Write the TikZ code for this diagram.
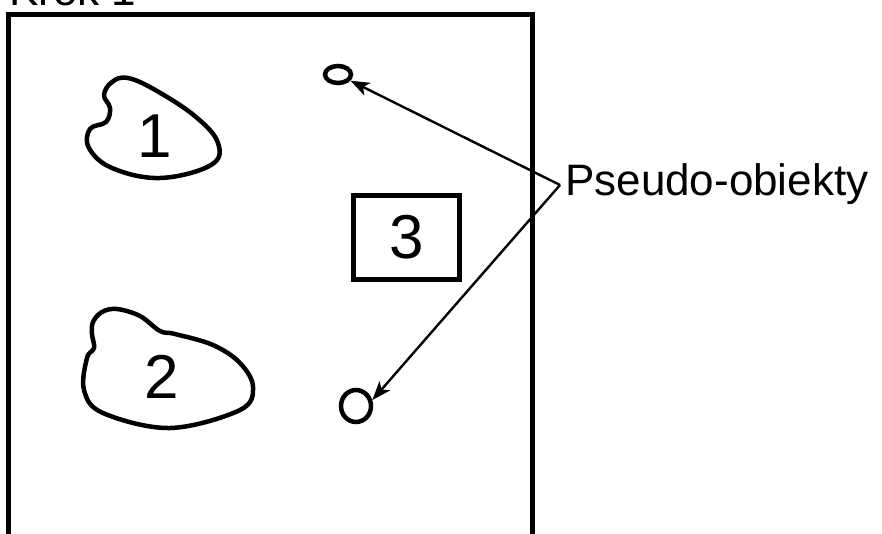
\documentclass[tikz,border=0pt]{standalone}
\usepackage{fontspec}
\setmainfont{Liberation Sans}
\usetikzlibrary{arrows.meta,shapes.geometric}
\begin{document}
\begin{tikzpicture}[x=1pt,y=-1pt,
  frame/.style={line width=5pt},
  outline/.style={line width=4.5pt, line join=round},
  digit/.style={font=\fontsize{62}{70}\selectfont, inner sep=0pt, anchor=base},
  caption/.style={font=\fontsize{44}{50}\selectfont, inner sep=0pt, anchor=base west},
  pseudo/.style={ellipse, draw, line width=4.5pt, inner sep=0pt},
  pointer/.style={line width=2.4pt, -{Stealth[length=19pt,width=14pt,inset=5pt]}}]
\useasboundingbox (0,0) rectangle (882,533);

% step title and the working area
\node[caption] (title) at (9,5) {Krok 1};
\draw[frame] (8,14) rectangle (532,560);

% object 1
\draw[outline] plot[smooth cycle, tension=0.65] coordinates {
  (104,95) (112,82) (128,78) (157,91) (196,117) (218,143) (211,165)
  (160,178) (112,168) (89,148) (90,129) (106,122) (110,108)};
\node[digit] (one) at (155,157) {1};

% object 2
\draw[outline] plot[smooth cycle, tension=0.6] coordinates {
  (93,322) (102,312) (117,309) (140,316) (160,331) (175,334) (213,345)
  (240,363) (253,387) (240,410) (170,428) (103,413) (84,390) (87,358)
  (94,348) (92,334)};
\node[digit] (two) at (162,398) {2};

% object 3
\node[draw, frame, minimum width=106pt, minimum height=84pt, inner sep=0pt,
      font=\fontsize{62}{70}\selectfont] (three) at (406.5,237.5) {3};

% pseudo-objects
\node[pseudo, minimum width=26pt, minimum height=17pt] (pa) at (338,74.5) {};
\node[pseudo, minimum width=30pt, minimum height=32pt] (pb) at (356,406) {};

% label and pointers
\node[caption] (lbl) at (565,195) {Pseudo-obiekty};
\coordinate (fork) at (560,185);
\draw[pointer] (fork) -- (pa);
\draw[pointer] (fork) -- (pb.20);
\end{tikzpicture}
\end{document}
